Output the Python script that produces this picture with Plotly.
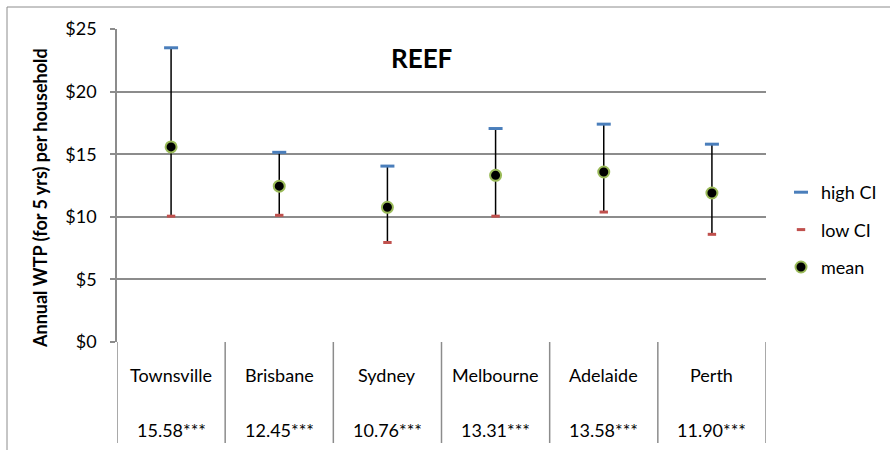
import plotly.graph_objects as go

# Willingness-to-pay estimates per city
cities = ["Townsville", "Brisbane", "Sydney", "Melbourne", "Adelaide", "Perth"]
mean_wtp = [15.58, 12.45, 10.76, 13.31, 13.58, 11.90]
high_ci = [23.5, 15.15, 14.05, 17.05, 17.4, 15.8]
low_ci = [10.05, 10.12, 7.95, 10.05, 10.38, 8.6]
value_labels = ["15.58***", "12.45***", "10.76***", "13.31***", "13.58***", "11.90***"]
y_ticks = [0, 5, 10, 15, 20, 25]
y_tick_text = ["$0", "$5", "$10", "$15", "$20", "$25"]

FONT = "Lato"
GRID = "#8c8c8c"

W, H = 890, 450
ML, MR, MT, MB = 117, 124, 29, 108
PW, PH = W - ML - MR, H - MT - MB


def px_x(px):
    return (px - ML) / PW


def px_y(py):
    return (H - MB - py) / PH


x_idx = list(range(len(cities)))

fig = go.Figure()

# mean with the high-low range drawn as an error bar
fig.add_trace(go.Scatter(
    x=x_idx, y=mean_wtp, mode="markers", name="mean",
    legendgroup="c", legendrank=3,
    marker=dict(symbol="circle", size=11, color="black",
                line=dict(color="#9bbb59", width=2)),
    error_y=dict(type="data", symmetric=False,
                 array=[h - m for h, m in zip(high_ci, mean_wtp)],
                 arrayminus=[m - l for m, l in zip(mean_wtp, low_ci)],
                 color="black", thickness=1.5, width=0),
))
fig.add_trace(go.Scatter(
    x=x_idx, y=high_ci, mode="markers", name="high CI",
    legendgroup="a", legendrank=1,
    marker=dict(symbol="line-ew", size=10, line=dict(color="#4a7ebb", width=3)),
))
fig.add_trace(go.Scatter(
    x=x_idx, y=low_ci, mode="markers", name="low CI",
    legendgroup="b", legendrank=2,
    marker=dict(symbol="line-ew", size=6, line=dict(color="#c0504d", width=3)),
))

shapes = []
# category table separators below the plot
for i in range(len(cities) + 1):
    shapes.append(dict(type="line", xref="x", yref="paper",
                       x0=i - 0.5, x1=i - 0.5, y0=0, y1=px_y(443),
                       line=dict(color=GRID, width=1.5)))
# outer chart frame
shapes.append(dict(type="rect", xref="paper", yref="paper",
                   x0=px_x(7), x1=px_x(905), y0=px_y(470), y1=px_y(7),
                   line=dict(color=GRID, width=1)))

annotations = []
for i, (c, v) in enumerate(zip(cities, value_labels)):
    annotations.append(dict(x=i, y=px_y(375), xref="x", yref="paper", text=c,
                            xanchor="center", yanchor="middle", showarrow=False,
                            font=dict(family=FONT, size=18, color="black")))
    annotations.append(dict(x=i, y=px_y(430), xref="x", yref="paper", text=v,
                            xanchor="center", yanchor="middle", showarrow=False,
                            font=dict(family=FONT, size=18, color="black")))
annotations.append(dict(x=px_x(421), y=px_y(58), xref="paper", yref="paper", text="<b>REEF</b>",
                        xanchor="center", yanchor="middle", showarrow=False,
                        font=dict(family=FONT, size=26, color="black")))
annotations.append(dict(x=px_x(40), y=px_y(198), xref="paper", yref="paper",
                        text="<b>Annual WTP (for 5 yrs) per household</b>", textangle=-90,
                        xanchor="center", yanchor="middle", showarrow=False,
                        font=dict(family=FONT, size=18, color="black")))

fig.update_layout(
    width=W, height=H,
    margin=dict(l=ML, r=MR, t=MT, b=MB, autoexpand=False),
    paper_bgcolor="white", plot_bgcolor="white",
    font=dict(family=FONT, size=18, color="black"),
    showlegend=True,
    legend=dict(x=px_x(781), y=px_y(174), xanchor="left", yanchor="top",
                traceorder="grouped", tracegroupgap=11,
                font=dict(family=FONT, size=18), itemwidth=30,
                bgcolor="rgba(0,0,0,0)"),
    shapes=shapes,
    annotations=annotations,
)
fig.update_xaxes(range=[-0.5, len(cities) - 0.5], showticklabels=False, showgrid=False,
                 zeroline=False, showline=False, ticks="")
fig.update_yaxes(range=[0, 25], tickvals=y_ticks, ticktext=y_tick_text,
                 showgrid=True, gridcolor=GRID, gridwidth=1.5,
                 zeroline=False, showline=True, linecolor=GRID, linewidth=1.5,
                 ticks="outside", ticklen=5, tickcolor=GRID, tickwidth=1.5,
                 ticklabelstandoff=10, tickfont=dict(family=FONT, size=18))

fig.write_html("out.html")
